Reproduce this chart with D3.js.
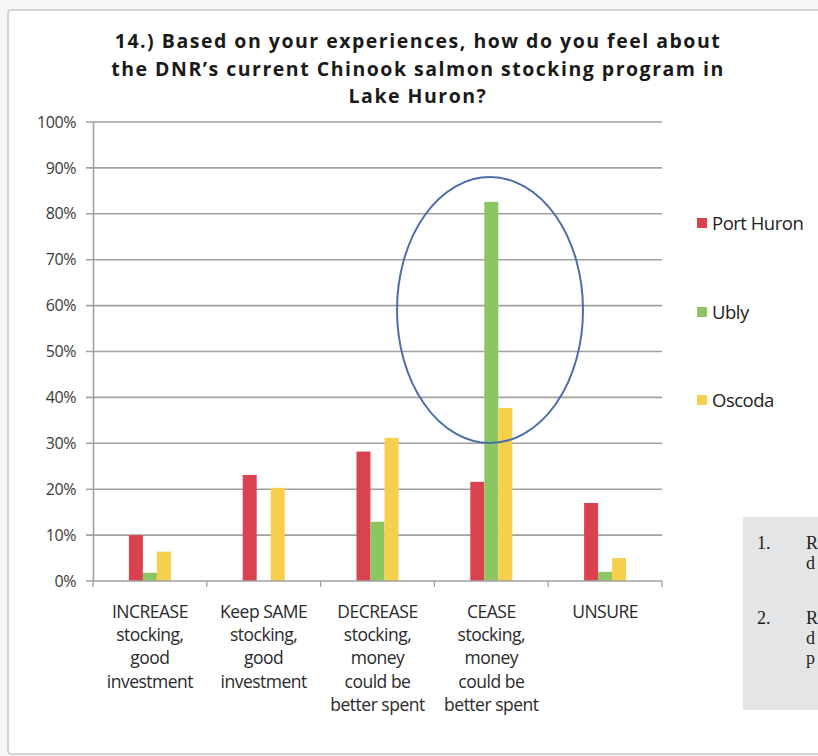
<!DOCTYPE html>
<html>
<head>
<meta charset="utf-8">
<script src="https://cdn.jsdelivr.net/npm/d3@7"></script>
<style>
  html, body { margin: 0; padding: 0; background: #f7f7f7; }
  svg { display: block; }
</style>
</head>
<body>
<svg id="chart" width="818" height="756"></svg>
<script>
// ---- Data ----
const categories = [
  ["INCREASE", "stocking,", "good", "investment"],
  ["Keep SAME", "stocking,", "good", "investment"],
  ["DECREASE", "stocking,", "money", "could be", "better spent"],
  ["CEASE", "stocking,", "money", "could be", "better spent"],
  ["UNSURE"]
];
const seriesNames = ["Port Huron", "Ubly", "Oscoda"];
const portHuron = [0.10, 0.231, 0.282, 0.216, 0.17];
const ubly      = [0.018, 0.0, 0.129, 0.826, 0.02];
const oscoda    = [0.064, 0.203, 0.312, 0.377, 0.05];
const seriesValues = [portHuron, ubly, oscoda];
const seriesColors = ["#d9434f", "#8cc663", "#f6d04d"];
const yTicks = [0, 0.1, 0.2, 0.3, 0.4, 0.5, 0.6, 0.7, 0.8, 0.9, 1.0];
const titleLines = [
  "14.)  Based on your experiences, how do you feel about",
  "the DNR\u2019s current Chinook salmon stocking program in",
  "Lake Huron?"
];
const boxNumbers = ["1.", "2."];
const boxLetters = [["R", "d"], ["R", "d", "p"]];

// ---- Layout ----
const svg = d3.select("#chart");
const L = 93, R = 662, T = 122, B = 581;

// outer frame
svg.append("rect").attr("x", 8).attr("y", 10).attr("width", 830).attr("height", 744)
  .attr("fill", "#ffffff").attr("stroke", "#c8c8c8").attr("stroke-width", 1.5).attr("rx", 3);

// gray text box bottom right
svg.append("rect").attr("x", 743).attr("y", 517).attr("width", 90).attr("height", 193)
  .attr("fill", "#e4e5e6");
const boxG = svg.append("g").attr("font-family", "'Liberation Serif', serif")
  .attr("font-size", 18).attr("fill", "#222");
const boxRows = [[549, 569], [624, 644, 664]];
boxNumbers.forEach((n, i) => {
  boxG.append("text").attr("x", 757).attr("y", boxRows[i][0]).text(n);
  boxLetters[i].forEach((l, j) => {
    boxG.append("text").attr("x", 806).attr("y", boxRows[i][j]).text(l);
  });
});

// title
const titleSize = 19.5;
const title = svg.append("g").attr("font-family", "'Open Sans', sans-serif")
  .attr("font-weight", "bold").attr("font-size", titleSize).attr("fill", "#1a1a1a")
  .attr("text-anchor", "middle");
const titleNodes = titleLines.map((t, i) =>
  title.append("text").attr("x", 418).attr("y", 48 + i * 27.5).text(t));
// adjust letter spacing so the first line spans its width in the reference
const w0 = titleNodes[0].node().getComputedTextLength();
const ls = (608 - w0) / titleLines[0].length;
title.attr("letter-spacing", ls);

// scales
const y = d3.scaleLinear().domain([0, 1]).range([B, T]);
const x0 = d3.scaleBand().domain(d3.range(categories.length)).range([L, R]).padding(0);
const x1 = d3.scaleBand().domain(d3.range(seriesNames.length)).range([-21, 21]).padding(0);

// gridlines
svg.append("g").selectAll("line").data(yTicks.filter(d => d > 0)).join("line")
  .attr("x1", L - 7).attr("x2", R).attr("y1", d => y(d)).attr("y2", d => y(d))
  .attr("stroke", "#a0a0a0").attr("stroke-width", 1.6);

// y axis
const yAxis = svg.append("g").attr("transform", `translate(${L},0)`)
  .call(d3.axisLeft(y).tickValues(yTicks).tickFormat(d3.format(".0%")).tickSize(0).tickPadding(17));
yAxis.select(".domain").attr("stroke", "#a0a0a0").attr("stroke-width", 1.6);
yAxis.selectAll("text").attr("font-family", "'Open Sans', sans-serif").attr("font-size", 16)
  .attr("fill", "#3a3a3a").attr("letter-spacing", -0.4);

// bars
const groups = svg.append("g").selectAll("g").data(categories).join("g")
  .attr("transform", (d, i) => `translate(${x0(i) + x0.bandwidth() / 2},0)`);
groups.selectAll("rect").data((d, i) => seriesValues.map((s, k) => ({k, v: s[i]}))).join("rect")
  .attr("x", d => x1(d.k)).attr("width", x1.bandwidth())
  .attr("y", d => y(d.v)).attr("height", d => B - y(d.v))
  .attr("fill", d => seriesColors[d.k]);

// x axis
const xAxis = svg.append("g").attr("transform", `translate(0,${B})`);
xAxis.append("line").attr("x1", L - 7).attr("x2", R).attr("stroke", "#a0a0a0").attr("stroke-width", 1.6);
xAxis.selectAll("line.tick").data(d3.range(categories.length + 1)).join("line")
  .attr("class", "tick")
  .attr("x1", i => i < categories.length ? x0(i) : R).attr("x2", i => i < categories.length ? x0(i) : R)
  .attr("y1", 0).attr("y2", 6).attr("stroke", "#a0a0a0").attr("stroke-width", 1.3);

const labels = svg.append("g").attr("font-family", "'Open Sans', sans-serif")
  .attr("font-size", 17.5).attr("fill", "#2a2a2a").attr("text-anchor", "middle")
  .attr("letter-spacing", -0.5);
categories.forEach((lines, i) => {
  const cx = x0(i) + x0.bandwidth() / 2;
  lines.forEach((ln, j) => {
    labels.append("text").attr("x", cx).attr("y", 618 + j * 23.2).text(ln);
  });
});

// legend
const legend = svg.append("g").attr("font-family", "'Open Sans', sans-serif")
  .attr("font-size", 18.5).attr("fill", "#222").attr("letter-spacing", -0.5);
const legendY = [223, 312, 400];
seriesNames.forEach((n, i) => {
  legend.append("rect").attr("x", 697).attr("y", legendY[i] - 5).attr("width", 10).attr("height", 10)
    .attr("fill", seriesColors[i]);
  legend.append("text").attr("x", 712).attr("y", legendY[i] + 6.5).text(n);
});

// highlight ellipse
svg.append("ellipse").attr("cx", 490).attr("cy", 310).attr("rx", 93).attr("ry", 133)
  .attr("fill", "none").attr("stroke", "#4a6fa8").attr("stroke-width", 2);
</script>
</body>
</html>
